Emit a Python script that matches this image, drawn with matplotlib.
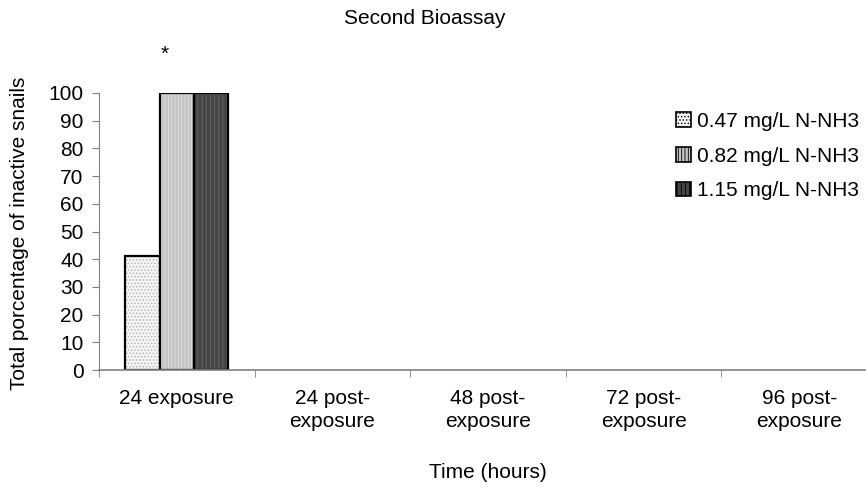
import numpy as np
import matplotlib
matplotlib.use('Agg')
import matplotlib.pyplot as plt

plt.rcParams['font.family'] = ['Liberation Sans', 'DejaVu Sans']
plt.rcParams['hatch.linewidth'] = 0.6

categories = ['24 exposure', '24 post-\nexposure', '48 post-\nexposure',
              '72 post-\nexposure', '96 post-\nexposure']
series_names = ['0.47 mg/L N-NH3', '0.82 mg/L N-NH3', '1.15 mg/L N-NH3']
low = [41, np.nan, np.nan, np.nan, np.nan]
mid = [100, np.nan, np.nan, np.nan, np.nan]
high = [100, np.nan, np.nan, np.nan, np.nan]
yticks = list(range(0, 101, 10))

faces = ['#f4f4f4', '#c4c4c4', '#454545']
hatch_colors = ['#b0b0b0', '#e0e0e0', '#666666']
hatches = ['.....', '|||||', '||||']

FS = 15
fig = plt.figure(figsize=(8.66, 4.88), dpi=100)
ax = fig.add_axes([99 / 866, (488 - 370) / 488, 778 / 866, 277 / 488])

x = np.arange(len(categories))
width = 0.22
handles = []
for i, (vals, name) in enumerate(zip([low, mid, high], series_names)):
    pos = x + (i - 1) * width
    ax.bar(pos, vals, width, color=faces[i], edgecolor=hatch_colors[i],
           hatch=hatches[i], linewidth=0)
    ax.bar(pos, vals, width, facecolor='none', edgecolor='black', linewidth=1.6)
    h = plt.Rectangle((0, 0), 1, 1, facecolor=faces[i], edgecolor='black',
                      hatch=hatches[i], linewidth=1.2)
    handles.append(h)

# significance mark
ax.text(x[0] - 0.08, 112, '*', ha='center', va='baseline', fontsize=FS, clip_on=False)

ax.set_xlim(-0.5, len(categories) - 0.5)
ax.set_ylim(0, 100)
ax.set_yticks(yticks)
ax.set_xticks(x)
ax.set_xticklabels(categories, fontsize=FS, linespacing=1.25)
ax.set_xticks(np.arange(len(categories) + 1) - 0.5, minor=True)
ax.tick_params(axis='x', which='major', length=0, pad=14)
ax.tick_params(axis='x', which='minor', length=5, direction='out', color='#808080')
ax.tick_params(axis='y', length=5, direction='out', color='#808080', labelsize=FS, pad=6)

for s in ['top', 'right']:
    ax.spines[s].set_visible(False)
ax.spines['left'].set_color('#808080')
ax.spines['bottom'].set_color('#808080')
ax.spines['bottom'].set_linewidth(1.2)

fig.text(425 / 866, 1 - 19 / 488, 'Second Bioassay', ha='center', va='center', fontsize=FS)
fig.text(20 / 866, 1 - 233 / 488, 'Total porcentage of inactive snails', rotation=90,
         ha='center', va='center', fontsize=FS)
fig.text(488 / 866, 1 - 472 / 488, 'Time (hours)', ha='center', va='center', fontsize=FS)

fig.legend(handles, series_names, loc='upper left', bbox_to_anchor=(676 / 866, 1 - 112 / 488),
           frameon=False, fontsize=FS, handlelength=0.7, handleheight=0.7,
           handletextpad=0.3, labelspacing=0.75, borderaxespad=0, borderpad=0)

fig.savefig('out.png', dpi=100)
